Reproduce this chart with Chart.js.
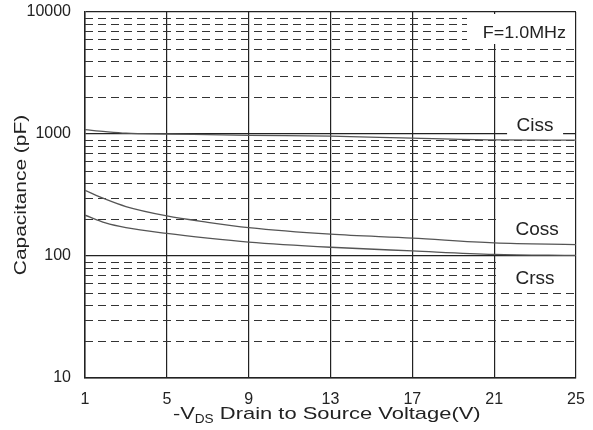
<!DOCTYPE html>
<html>
<head>
<meta charset="utf-8">
<script src="https://cdn.jsdelivr.net/npm/chart.js@4/dist/chart.umd.min.js"></script>
<style>
  html, body { margin: 0; padding: 0; background: #fff; }
  #wrap { width: 593px; height: 430px; }
</style>
</head>
<body>
<div id="wrap"><canvas id="capChart"></canvas></div>
<script>
// values
const voltage = [1, 2, 3, 5, 7, 9, 13, 17, 21, 25];
const ciss = [1085, 1045, 1015, 1000, 987, 974, 960, 924, 895, 890];
const coss = [345, 292, 254, 213, 189, 171, 151, 140, 128, 124];
const crss = [216, 187, 171, 153, 140, 130, 118, 110, 103, 101];

const decadeTicks = [10, 100, 1000, 10000];
const minorTicks = [20, 30, 40, 50, 60, 70, 80, 90,
                    200, 300, 400, 500, 600, 700, 800, 900,
                    2000, 3000, 4000, 5000, 6000, 7000, 8000, 9000];

// curve labels, placed in data units
const curveLabels = [
  { text: 'Ciss', x: 23.0, y: 1214 },
  { text: 'Coss', x: 23.1, y: 171 },
  { text: 'Crss', x: 23.0, y: 67 }
];

const FONT = '"Liberation Sans", Arial, sans-serif';

function toPoints(ys) {
  return voltage.map((v, i) => ({ x: v, y: ys[i] }));
}

function drawText(ctx, txt, px, py, size, sx, align, rot) {
  ctx.save();
  ctx.translate(px, py);
  if (rot) ctx.rotate(rot);
  ctx.scale(sx, 1);
  ctx.font = size + 'px ' + FONT;
  ctx.fillStyle = '#222';
  ctx.textAlign = align;
  ctx.textBaseline = 'alphabetic';
  ctx.fillText(txt, 0, 0);
  ctx.restore();
}

const extras = {
  id: 'extras',
  beforeDatasetsDraw(chart) {
    const { ctx, chartArea: a, scales: { x, y } } = chart;
    ctx.save();
    // dashed minor grid
    ctx.setLineDash([8, 5]);
    ctx.strokeStyle = '#333';
    ctx.lineWidth = 1.2;
    minorTicks.forEach(v => {
      const py = Math.round(y.getPixelForValue(v)) + 0.5;
      ctx.beginPath();
      ctx.moveTo(a.left, py);
      ctx.lineTo(a.right, py);
      ctx.stroke();
    });
    ctx.restore();

    // white backgrounds behind labels
    ctx.save();
    ctx.fillStyle = '#fff';
    const x21 = x.getPixelForValue(21);
    const cy = curveLabels.map(l => y.getPixelForValue(l.y));
    const cx = curveLabels.map(l => x.getPixelForValue(l.x));
    ctx.fillRect(cx[0] - 28, cy[0] - 12, 56, y.getPixelForValue(1000) - cy[0] + 14);
    ctx.fillRect(x21 + 3, cy[1] - 20, a.right - x21 - 4.5, 30);
    ctx.fillRect(x21 + 3, cy[2] - 19, a.right - x21 - 4.5, 33);
    ctx.fillRect(a.right - 109, a.top + 2, 107.5, 30);
    ctx.restore();
  },
  afterDraw(chart) {
    const { ctx, chartArea: a, scales: { x, y } } = chart;
    curveLabels.forEach(l => {
      drawText(ctx, l.text, x.getPixelForValue(l.x), y.getPixelForValue(l.y) + 7, 19, 1, 'center');
    });
    drawText(ctx, 'F=1.0MHz', a.right - 10, a.top + 26, 16, 1.12, 'right');

    // x axis title with subscript
    ctx.save();
    let px = 173;
    const base = 419;
    ctx.font = '17px ' + FONT;
    drawText(ctx, '-V', px, base, 17, 1.28, 'left');
    px += ctx.measureText('-V').width * 1.28;
    ctx.font = '13px ' + FONT;
    drawText(ctx, 'DS', px, base + 4, 13, 1.05, 'left');
    px += ctx.measureText('DS').width * 1.05;
    ctx.font = '17px ' + FONT;
    drawText(ctx, ' Drain to Source Voltage(V)', px, base, 17, 1.29, 'left');
    ctx.restore();

    // y axis title
    drawText(ctx, 'Capacitance (pF)', 26, (a.top + a.bottom) / 2, 17, 1.23, 'center', -Math.PI / 2);
  }
};

const lineStyle = {
  borderColor: '#555',
  borderWidth: 1.3,
  pointRadius: 0,
  fill: false,
  cubicInterpolationMode: 'monotone'
};

new Chart(document.getElementById('capChart'), {
  type: 'line',
  data: {
    datasets: [
      Object.assign({ label: 'Ciss', data: toPoints(ciss) }, lineStyle),
      Object.assign({ label: 'Coss', data: toPoints(coss) }, lineStyle),
      Object.assign({ label: 'Crss', data: toPoints(crss) }, lineStyle)
    ]
  },
  options: {
    responsive: true,
    maintainAspectRatio: false,
    animation: false,
    layout: { padding: { top: 12, right: 17, left: 0, bottom: 0 } },
    plugins: {
      legend: { display: false },
      tooltip: { enabled: false }
    },
    scales: {
      x: {
        type: 'linear',
        min: 1,
        max: 25,
        ticks: {
          stepSize: 4,
          padding: 12,
          color: '#222',
          font: { family: FONT, size: 16 }
        },
        grid: { color: '#222', lineWidth: 1.2, drawTicks: false },
        border: { color: '#222', width: 1.5 },
        afterFit(s) {
          s.height = 52;
          s.paddingLeft = 0;
          s.paddingRight = 0;
        }
      },
      y: {
        type: 'logarithmic',
        min: 10,
        max: 10000,
        afterBuildTicks(s) {
          s.ticks = decadeTicks.map(v => ({ value: v }));
        },
        ticks: {
          padding: 14,
          color: '#222',
          font: { family: FONT, size: 16 },
          callback: v => String(v)
        },
        grid: { color: '#222', lineWidth: 1.2, drawTicks: false },
        border: { color: '#222', width: 1.5 },
        afterFit(s) {
          s.width = 85;
          s.paddingTop = 0;
          s.paddingBottom = 0;
        }
      }
    }
  },
  plugins: [extras]
});
</script>
</body>
</html>
